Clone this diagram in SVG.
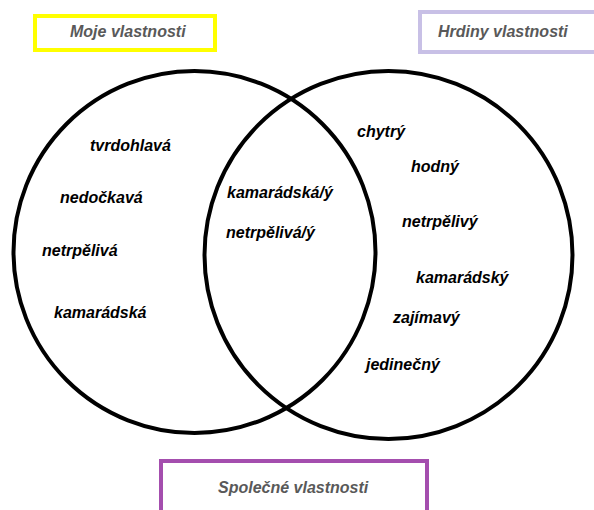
<svg xmlns="http://www.w3.org/2000/svg" width="594" height="510" viewBox="0 0 594 510">
<style>
.c{fill:none;stroke:#000;stroke-width:4}
.t{font-family:"Liberation Sans",Arial,sans-serif;font-size:16px;font-weight:bold;font-style:italic;fill:#000}
.lbl{font-family:"Liberation Sans",Arial,sans-serif;font-size:16px;font-weight:bold;font-style:italic;fill:#595959}
.box{fill:#fff;stroke-width:4}
</style>
<rect width="594" height="510" fill="#fff"/>
<g id="connectors"></g>
<g id="left-set">
<circle class="c" cx="194.5" cy="252" r="181"/>
</g>
<g id="right-set">
<circle class="c" cx="388.5" cy="255" r="184"/>
</g>
<g id="label-moje">
<rect class="box" x="35" y="16" width="180" height="34" stroke="#FFFF00"/>
<text class="lbl" x="70" y="37">Moje vlastnosti</text>
</g>
<g id="label-hrdiny">
<rect class="box" x="420" y="12" width="190" height="40" stroke="#C8C0E6"/>
<text class="lbl" x="438" y="37">Hrdiny vlastnosti</text>
</g>
<g id="label-spolecne">
<rect class="box" x="161" y="461" width="266" height="60" stroke="#A44EAE"/>
<text class="lbl" x="218" y="493">Společné vlastnosti</text>
</g>
<g id="left-items">
<text class="t" x="90" y="151">tvrdohlavá</text>
<text class="t" x="60" y="203">nedočkavá</text>
<text class="t" x="42" y="256">netrpělivá</text>
<text class="t" x="54" y="318">kamarádská</text>
</g>
<g id="common-items">
<text class="t" x="227" y="198">kamarádská/ý</text>
<text class="t" x="226" y="238">netrpělivá/ý</text>
</g>
<g id="right-items">
<text class="t" x="357" y="137">chytrý</text>
<text class="t" x="411" y="172">hodný</text>
<text class="t" x="402" y="227">netrpělivý</text>
<text class="t" x="416" y="283">kamarádský</text>
<text class="t" x="393" y="323">zajímavý</text>
<text class="t" x="366" y="370">jedinečný</text>
</g>
</svg>
